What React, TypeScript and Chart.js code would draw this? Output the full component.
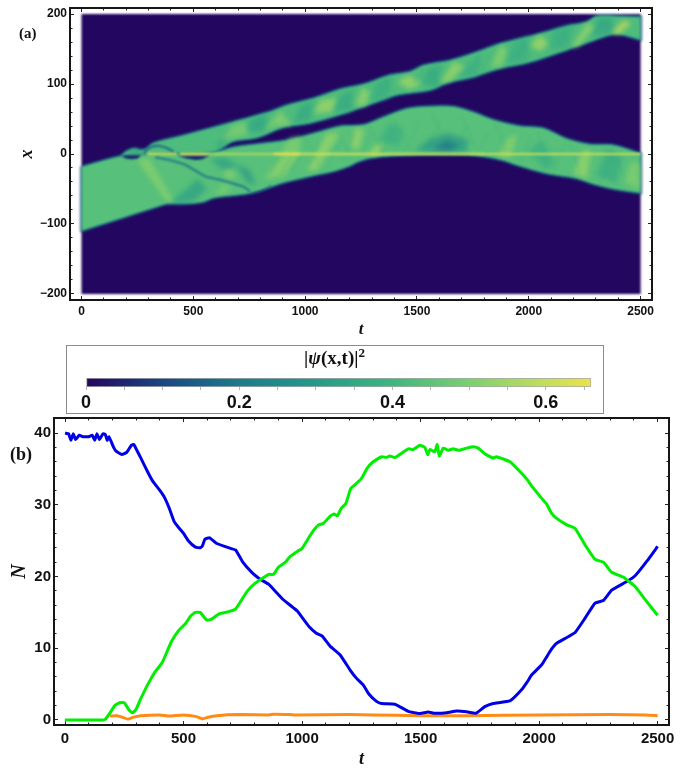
import React, { useEffect, useRef } from "react";
import { Chart, registerables } from "chart.js";
Chart.register(...registerables);

const FONT_SANS = "'Liberation Sans', Arial, sans-serif";
const FONT_SERIF = "'Liberation Serif', 'Times New Roman', serif";

// ---- colour scale of |psi|^2 ----
const colourStops = [0, 0.1, 0.2, 0.3, 0.4, 0.5, 0.6, 0.659];
const colourHex = ["#23065f", "#1a4683", "#1c7b8c", "#259a89", "#3fb680", "#7ccf70", "#c3de5c", "#ece24c"];

// ---- panel (a): outlines, [t, x] ----
const backgroundRect = [[0, 200], [2500, 200], [2500, -200], [0, -200], [0, 200]];
const lowerBandOutline = [
  [0, -18], [0, -18], [174, -3], [300, 0], [560, 0], [590, 1.5], [680, 10], [799, 15], [918, 20], [1052, 31], [1157, 40], [1261, 42],
  [1350, 53], [1454, 65], [1544, 68], [1663, 68], [1752, 60], [1842, 49], [1961, 40], [2065, 37], [2169, 22], [2273, 14],
  [2377, 13], [2500, 1], [2500, 1], [2500, -56], [2500, -56], [2377, -50], [2287, -43], [2213, -35], [2079, -28], [1946, -16], [1871, -8],
  [1722, -1], [1499, -1], [1305, -5], [1231, -12], [1201, -17], [1127, -25], [1052, -30], [904, -41], [830, -49],
  [755, -56], [660, -60], [640, -60], [590, -63], [540, -69], [472, -71], [383, -71], [383, -71], [0, -110], [0, -110], [0, -18],
];
const upperBandOutline = [
  [174, -3], [200, 4], [234, 8], [270, 6], [290, 8], [323, 16], [457, 27], [665, 45], [844, 61], [918, 70], [1038, 80],
  [1157, 93], [1261, 100], [1380, 113], [1470, 118], [1529, 127], [1648, 134], [1767, 146], [1871, 158], [1975, 166],
  [2079, 175], [2183, 184], [2258, 189], [2302, 197], [2406, 197], [2500, 196], [2500, 196], [2500, 163], [2500, 163], [2385, 171], [2273, 160],
  [2139, 145], [2005, 131], [1871, 122], [1752, 110], [1633, 101], [1559, 91], [1410, 84], [1276, 69], [1157, 56],
  [1023, 44], [904, 38], [785, 23], [680, 18], [591, 3], [400, 1], [174, -3],
];
const patchOutlines = [
  [[245, -8], [300, -5], [412, -66], [385, -70]],
  [[400, -68], [470, -50], [520, -35], [560, -50], [500, -68], [430, -70]],
  [[590, -58], [640, -40], [670, -50], [640, -59]],
  [[575, -8], [640, -5], [700, -16], [640, -25]],
  [[630, -25], [660, -20], [690, -30], [660, -38]],
  [[690, -15], [750, -22], [780, -45], [740, -40]],
  [[600, 10], [650, 33], [680, 38], [625, 8]],
  [[621, 20], [673, 41], [733, 46], [747, 27]],
  [[740, 32], [755, 49], [829, 58], [822, 32]],
  [[814, 32], [889, 62], [941, 41], [860, 40]],
  [[948, 43], [978, 70], [1038, 75], [1023, 49]],
  [[1038, 58], [1068, 77], [1142, 80], [1120, 60]],
  [[1125, 60], [1150, 80], [1210, 92], [1210, 62]],
  [[1225, 70], [1255, 96], [1290, 88], [1270, 68]],
  [[1290, 75], [1320, 103], [1390, 112], [1370, 80]],
  [[1410, 103], [1462, 113], [1521, 101], [1469, 92]],
  [[1520, 100], [1545, 120], [1610, 130], [1590, 95]],
  [[1603, 101], [1663, 132], [1715, 125], [1648, 104]],
  [[1680, 108], [1720, 125], [1790, 146], [1770, 112]],
  [[1830, 125], [1870, 155], [1905, 150], [1880, 125]],
  [[1900, 128], [1930, 160], [2000, 168], [1990, 132]],
  [[2006, 156], [2050, 170], [2088, 158], [2050, 146]],
  [[2090, 150], [2110, 176], [2200, 185], [2170, 150]],
  [[2192, 153], [2259, 187], [2296, 182], [2222, 153]],
  [[2280, 168], [2310, 195], [2370, 195], [2385, 174], [2340, 170]],
  [[2370, 174], [2423, 191], [2460, 187], [2400, 170]],
  [[814, -36], [904, 1], [978, 1], [904, -32]],
  [[889, 1], [930, 22], [978, 25], [978, 1]],
  [[1008, -23], [1097, 30], [1157, 30], [1053, -24]],
  [[1201, 10], [1225, 38], [1265, 35], [1240, 5]],
  [[1280, -3], [1320, 15], [1350, 10], [1320, -3]],
  [[1330, 20], [1380, 45], [1440, 35], [1420, 10]],
  [[1490, 5], [1560, 22], [1640, 30], [1730, 20], [1720, 2], [1600, 1]],
  [[1570, 8], [1630, 20], [1690, 14], [1650, 4]],
  [[1860, -5], [1900, 20], [1950, 30], [1920, -5]],
  [[2000, 5], [2060, 20], [2120, -15], [2070, -22]],
  [[2200, -28], [2240, 5], [2280, 5], [2260, -35]],
  [[2300, -30], [2350, 8], [2420, -5], [2390, -42]],
  [[2425, -40], [2460, -10], [2495, -15], [2495, -50]],
  [[190, 0], [240, 6], [275, 4], [260, 0]],
];
const patchValues = [
  0.53, 0.3, 0.5, 0.3, 0.54, 0.27, 0.32, 0.52, 0.32, 0.54, 0.34, 0.58, 0.34, 0.56, 0.36, 0.58, 0.34, 0.57, 0.36, 0.54,
  0.36, 0.59, 0.36, 0.56, 0.32, 0.64, 0.54, 0.52, 0.56, 0.56, 0.58, 0.36, 0.27, 0.18, 0.54, 0.36, 0.56, 0.35, 0.52, 0.25,
];
const voidOutlines = [
  [[182, -3], [200, -6], [225, -7], [250, -6], [263, -2], [240, -2.5], [210, -2.5], [182, -3]],
  [[438, -3], [470, -6], [510, -8], [540, -7], [570, -2], [550, -3], [500, -3], [460, -3], [438, -3]],
];
const darkArc = [[278, 1], [292, 6], [308, 9.5], [330, 11.5], [353, 11.4], [385, 8], [412, 3.3]];
const darkSlope = [[330, -4.7], [400, -9], [465, -15.6], [510, -24], [554, -32], [621, -37], [725, -47], [755, -54]];
const faintWisp = [[760, -57], [800, -54], [850, -45]];
const brightLineSegments = [
  [[295, 0], [425, 0]],
  [[440, 0], [570, 0]],
  [[570, 0], [860, 0]],
  [[860, 0], [980, 0]],
  [[980, 0], [1800, 0]],
  [[1800, 0], [2500, 0]],
];
const brightLineValues = [0.6, 0.63, 0.55, 0.66, 0.6, 0.6];
const crossStreaks = [
  [[840, -30], [880, -5]], [[890, -30], [935, -5]], [[940, -25], [985, 2]], [[1020, -15], [1060, 15]], [[1100, -20], [1150, 15]],
  [[1170, -10], [1215, 25]], [[1240, -8], [1300, 30]], [[1340, 0], [1410, 42]], [[1440, 2], [1510, 45]], [[1540, 5], [1600, 45]],
  [[1660, 2], [1720, 38]], [[1780, 4], [1820, 30]], [[1960, -12], [2010, 25]], [[2110, -25], [2160, 15]], [[2320, -40], [2380, 0]],
  [[1000, 25], [1060, -15]], [[1150, 30], [1210, -8]], [[1290, 38], [1350, 0]], [[1400, 48], [1470, 5]], [[1560, 60], [1640, 10]],
  [[1700, 55], [1760, 10]], [[1850, 42], [1900, 5]], [[2040, 30], [2080, -15]], [[2180, 15], [2230, -25]], [[2370, 8], [2430, -35]],
  [[1320, 80], [1360, 100]], [[1480, 100], [1530, 120]], [[1790, 120], [1830, 145]], [[1950, 140], [1990, 160]], [[2130, 155], [2170, 178]],
  [[1360, 105], [1400, 88]], [[1560, 122], [1600, 98]], [[1760, 140], [1800, 118]], [[1970, 160], [2010, 138]], [[2150, 175], [2190, 152]],
];
const crossValue = 0.32;

// ---- panel (b) series ----
const blueT = [0, 15, 25, 35, 45, 60, 75, 100, 115, 125, 135, 145, 160, 170, 178, 185, 195, 205, 215, 240, 260, 280, 290, 300, 320, 350, 370, 400, 420, 440, 460, 480, 500, 520, 550, 570, 580, 590, 610, 640, 700, 720, 750, 790, 820, 860, 880, 920, 950, 980, 1000, 1030, 1060, 1085, 1118, 1160, 1202, 1230, 1258, 1280, 1314, 1335, 1392, 1448, 1497, 1532, 1560, 1610, 1652, 1694, 1734, 1771, 1806, 1877, 1926, 1950, 1969, 2011, 2032, 2053, 2074, 2117, 2152, 2194, 2236, 2271, 2306, 2370, 2405, 2454, 2500];
const blueN = [40, 39.9, 39, 39.9, 39.1, 39.7, 39.5, 39.5, 39.7, 39, 39.9, 39.1, 39.9, 39.8, 39, 39.5, 38.8, 38, 37.5, 37, 37.3, 38.3, 38.4, 37.8, 36.5, 34.5, 33.3, 32, 31, 29.5, 27.7, 26.8, 26, 25, 24.1, 24, 24.3, 25.2, 25.4, 24.6, 23.9, 23.7, 22, 20.5, 19.7, 18.9, 18.2, 16.8, 16, 15.2, 14.3, 13, 12.1, 11.7, 10.3, 9.1, 7, 5.8, 4.9, 3.7, 2.6, 2.3, 2.2, 1.2, 0.9, 1.1, 0.93, 1, 1.25, 1.15, 0.93, 1.86, 2.3, 2.65, 4.2, 5.3, 6.3, 7.7, 8.8, 9.9, 10.7, 11.5, 12.2, 14.2, 16.3, 16.65, 18.1, 19.3, 20.1, 22.1, 24.2];
const greenT = [0, 160, 170, 190, 210, 230, 250, 270, 285, 300, 320, 350, 380, 410, 430, 450, 480, 510, 530, 550, 570, 590, 600, 620, 650, 690, 720, 750, 770, 800, 830, 860, 880, 900, 930, 950, 980, 1000, 1030, 1050, 1070, 1090, 1118, 1135, 1150, 1165, 1185, 1202, 1209, 1230, 1251, 1275, 1300, 1335, 1356, 1370, 1392, 1448, 1469, 1497, 1518, 1530, 1539, 1560, 1570, 1579, 1596, 1617, 1638, 1660, 1694, 1722, 1743, 1771, 1806, 1820, 1877, 1926, 1950, 1969, 2011, 2032, 2053, 2074, 2117, 2152, 2194, 2236, 2271, 2306, 2356, 2405, 2454, 2500];
const greenN = [0, 0, 0.1, 1, 2, 2.4, 2.4, 1.4, 1, 1.5, 3, 5, 6.7, 8, 9.5, 11, 12.5, 13.5, 14.5, 15, 15, 14.2, 13.9, 14.1, 14.8, 15.1, 15.5, 17, 18, 19, 19.7, 20.3, 20.3, 21.3, 22, 22.8, 23.5, 23.9, 25.5, 26.5, 27.2, 27.4, 28.4, 28.7, 28.5, 29.5, 30.2, 32, 32.4, 33, 33.7, 35.1, 36, 36.7, 36.6, 36.8, 36.6, 37.8, 37.7, 38.3, 38, 37, 37.7, 37.4, 38.4, 36.8, 37.9, 37.6, 37.8, 37.6, 37.9, 38.1, 37.9, 37.1, 36.5, 36.7, 36, 34.4, 33.5, 32.6, 30.9, 30.1, 28.8, 28.1, 27.2, 26.7, 24.4, 22.4, 22, 20.6, 19.9, 18.6, 16.5, 14.6];
const orangeT = [190, 220, 250, 265, 290, 320, 400, 440, 500, 550, 580, 600, 640, 740, 860, 880, 950, 970, 1200, 1300, 1500, 1700, 2000, 2300, 2450, 2500];
const orangeN = [0.55, 0.6, 0.3, 0.1, 0.4, 0.6, 0.7, 0.55, 0.7, 0.5, 0.15, 0.35, 0.6, 0.75, 0.7, 0.8, 0.75, 0.7, 0.75, 0.7, 0.6, 0.6, 0.7, 0.75, 0.7, 0.6];

const tMajor = [0, 500, 1000, 1500, 2000, 2500];
const tMinor = [100, 200, 300, 400, 600, 700, 800, 900, 1100, 1200, 1300, 1400, 1600, 1700, 1800, 1900, 2100, 2200, 2300, 2400];
const xMajor = [-200, -100, 0, 100, 200];
const xMinor = [-180, -160, -140, -120, -80, -60, -40, -20, 20, 40, 60, 80, 120, 140, 160, 180];
const nMajor = [0, 10, 20, 30, 40];
const nMinor = [2, 4, 6, 8, 12, 14, 16, 18, 22, 24, 26, 28, 32, 34, 36, 38, 42];
const barTicks = [0, 0.05, 0.1, 0.15, 0.2, 0.25, 0.3, 0.35, 0.4, 0.45, 0.5, 0.55, 0.6, 0.65];
const barLabels = [0, 0.2, 0.4, 0.6];

function colourOf(v: number) {
  let i = 0;
  while (i < colourStops.length - 2 && v > colourStops[i + 1]) i++;
  const f = Math.min(1, Math.max(0, (v - colourStops[i]) / (colourStops[i + 1] - colourStops[i])));
  const rgb = (h: string) => [1, 3, 5].map((k) => parseInt(h.slice(k, k + 2), 16));
  const a = rgb(colourHex[i]);
  const b = rgb(colourHex[i + 1]);
  return a.map((c, k) => Math.round(c + (b[k] - c) * f));
}
const css = (v: number, alpha = 1) => `rgba(${colourOf(v).join(",")},${alpha})`;
const pts = (a: number[][]) => a.map(([x, y]) => ({ x, y }));
const series = (t: number[], n: number[]) => t.map((x, i) => ({ x, y: n[i] }));

type Box = { left: number; right: number; top: number; bottom: number };

function noPadding(s: any) {
  s.paddingTop = 0; s.paddingBottom = 0; s.paddingLeft = 0; s.paddingRight = 0;
}

function sideAxes(
  hMin: number, hMax: number, vMin: number, vMax: number,
  hMajor: number[], hMinor: number[], vMajor: number[], vMinor: number[],
  box: Box, bottomSize: number, fontSize: number, hPad: number, vPad: number, hTitle: any, vTitle: any,
) {
  const frame = { display: true, width: 2, color: "#161616" };
  const noFrame = { display: false };
  const grid = (len: number) => ({ drawOnChartArea: false, drawTicks: true, tickLength: len, tickColor: "#222", tickWidth: 1 });
  const setTicks = (vals: number[]) => (s: any) => { s.ticks = vals.map((value) => ({ value })); };
  const h = (position: string, vals: number[], len: number, main: boolean, label: boolean, weight: number, size: number, title?: any) => ({
    type: "linear", position, min: hMin, max: hMax, weight,
    afterBuildTicks: setTicks(vals),
    afterFit: (s: any) => { s.height = size; noPadding(s); },
    border: main ? frame : noFrame, grid: grid(len),
    title: title || { display: false },
    ticks: { display: label, autoSkip: false, maxRotation: 0, padding: hPad, font: { family: FONT_SANS, weight: "bold", size: fontSize }, color: "#111", callback: (v: number) => String(v) },
  });
  const v = (position: string, vals: number[], len: number, main: boolean, label: boolean, weight: number, size: number, title?: any) => ({
    type: "linear", position, min: vMin, max: vMax, weight,
    afterBuildTicks: setTicks(vals),
    afterFit: (s: any) => { s.width = size; noPadding(s); },
    border: main ? frame : noFrame, grid: grid(len),
    title: title || { display: false },
    ticks: { display: label, autoSkip: false, padding: vPad, font: { family: FONT_SANS, weight: "bold", size: fontSize }, color: "#111", callback: (t: number) => String(t).replace("-", "\u2212") },
  });
  return {
    x: h("bottom", hMajor, -4, true, true, 2, bottomSize, hTitle),
    xM: h("bottom", hMinor, -2.5, false, false, 0, 0),
    xT: h("top", hMajor, -4, true, false, 2, 0),
    xTM: h("top", hMinor, -2.5, false, false, 0, 0),
    y: v("left", vMajor, -4, true, true, 2, box.left, vTitle),
    yM: v("left", vMinor, -2.5, false, false, 0, 0),
    yR: v("right", vMajor, -4, true, false, 2, 0),
    yRM: v("right", vMinor, -2.5, false, false, 0, 0),
  };
}

function axisTitle(text: string, size: number, padding: any) {
  return { display: true, text, color: "#111", padding, font: { family: FONT_SERIF, style: "italic", weight: "bold", size } };
}

const CLEAR = "rgba(0,0,0,0)";

function polygon(points: number[][], colour: string, stroke?: string, width = 0, fill = true, tension = 0) {
  return {
    data: pts(points), showLine: true, pointRadius: 0, tension,
    fill: fill ? "shape" : false,
    backgroundColor: colour,
    borderColor: stroke || CLEAR,
    borderWidth: width,
    borderJoinStyle: "round",
  };
}

function useChart(make: (c: HTMLCanvasElement) => any) {
  const ref = useRef<HTMLCanvasElement | null>(null);
  useEffect(() => {
    const chart = make(ref.current!);
    return () => chart.destroy();
  }, []);
  return ref;
}

const A: Box = { left: 70, right: 652, top: 8, bottom: 300 };
const tRangeA = [-51.4, 2551];
const xRangeA = [-208.6, 208.6];
const B: Box = { left: 54, right: 669, top: 3, bottom: 310 };
const tRangeB = [-46.5, 2548];
const nRange = [-0.7, 42.1];

function heatLayer(ds: any[]) {
  return (c: HTMLCanvasElement) => {
    ds.forEach((d, i) => { d.order = ds.length - i; });
    return new Chart(c, {
      type: "scatter",
      data: { datasets: ds },
      options: {
        responsive: false, animation: false,
        layout: { padding: { left: A.left, right: 690 - A.right, top: A.top, bottom: 340 - A.bottom } },
        plugins: { legend: { display: false }, tooltip: { enabled: false } },
        scales: {
          x: { type: "linear", display: false, min: tRangeA[0], max: tRangeA[1] },
          y: { type: "linear", display: false, min: xRangeA[0], max: xRangeA[1] },
        },
      },
    } as any);
  };
}

const baseLayer = () => [
  polygon(backgroundRect, css(0)),
  polygon(upperBandOutline, CLEAR, css(0.09, 0.65), 3.5, false, 0.3),
  polygon(lowerBandOutline, CLEAR, css(0.09, 0.65), 3.5, false, 0.3),
  polygon(lowerBandOutline, css(0.44), css(0.24), 1, true, 0.3),
  polygon(upperBandOutline, css(0.425), css(0.24), 1, true, 0.3),
];
const patchLayer = () => patchOutlines.map((p, i) => polygon([...p, p[0]], css(patchValues[i], 0.62)));
const detailLayer = () => [
  ...crossStreaks.map((p) => polygon(p, CLEAR, css(crossValue, 0.14), 1.6, false)),
  ...voidOutlines.map((p) => polygon(p, css(0.02), css(0.1), 1)),
  polygon(darkArc, CLEAR, css(0.14, 0.85), 2.2, false, 0.3),
  polygon(darkSlope, CLEAR, css(0.18, 0.8), 2.4, false, 0.3),
  polygon(faintWisp, CLEAR, css(0.1, 0.45), 2, false),
  ...brightLineSegments.map((p, i) => polygon(p, CLEAR, css(brightLineValues[i]), i === 5 ? 2 : 2.6, false)),
];

function frameA(c: HTMLCanvasElement) {
  const scales: any = sideAxes(tRangeA[0], tRangeA[1], xRangeA[0], xRangeA[1], tMajor, tMinor, xMajor, xMinor,
    A, 340 - A.bottom, 12, 8, 7,
    axisTitle("t", 17, { top: 0, bottom: 0 }), axisTitle("x", 18, { top: 17, bottom: 0 }));
  return new Chart(c, {
    type: "scatter",
    data: { datasets: [] },
    options: {
      responsive: false, animation: false,
      layout: { padding: { left: 0, right: 690 - A.right, top: A.top, bottom: 0 } },
      plugins: { legend: { display: false }, tooltip: { enabled: false } },
      scales,
    },
  } as any);
}

function barChart(c: HTMLCanvasElement) {
  return new Chart(c, {
    type: "bar",
    data: {
      labels: ["|\u03c8(x,t)|\u00b2"],
      datasets: [{
        data: [[0, 0.659]],
        borderWidth: 1, borderColor: "#a8a8a8", borderSkipped: false,
        barPercentage: 1, categoryPercentage: 1,
        backgroundColor: (ctx: any) => {
          const area = ctx.chart.chartArea;
          if (!area) return colourHex[3];
          const g = ctx.chart.ctx.createLinearGradient(area.left, 0, area.right, 0);
          colourStops.forEach((s, i) => g.addColorStop(s / 0.659, colourHex[i]));
          return g;
        },
      }],
    },
    options: {
      indexAxis: "y", responsive: false, animation: false,
      layout: { padding: { left: 20, right: 12, top: 33, bottom: 0 } },
      plugins: { legend: { display: false }, tooltip: { enabled: false } },
      scales: {
        y: { type: "category", display: false },
        x: {
          type: "linear", position: "bottom", min: 0, max: 0.659,
          afterBuildTicks: (s: any) => { s.ticks = barTicks.map((value) => ({ value })); },
          afterFit: (s: any) => { s.height = 27; noPadding(s); },
          border: { display: false },
          grid: { drawOnChartArea: false, drawTicks: true, tickLength: 3, tickColor: "#b5b5b5", tickWidth: 1 },
          ticks: {
            autoSkip: false, maxRotation: 0, padding: 2, color: "#111",
            font: { family: FONT_SANS, weight: "bold", size: 18 },
            callback: (v: number) => (barLabels.some((b) => Math.abs(b - v) < 1e-6) ? String(Math.round(v * 10) / 10) : ""),
          },
        },
      },
    },
  } as any);
}

function countChart(c: HTMLCanvasElement) {
  const scales: any = sideAxes(tRangeB[0], tRangeB[1], nRange[0], nRange[1], tMajor, tMinor, nMajor, nMinor,
    B, 355 - B.bottom, 15, 9, 7,
    axisTitle("t", 18, { top: 0, bottom: 0 }), axisTitle("N", 20, { top: 8, bottom: 0 }));
  const line = (data: any[], colour: string, order: number) => ({
    data, borderColor: colour, backgroundColor: colour, borderWidth: 3, pointRadius: 0,
    tension: 0.12, order, fill: false, borderJoinStyle: "round",
  });
  return new Chart(c, {
    type: "line",
    data: {
      datasets: [
        { label: "green", ...line(series(greenT, greenN), "#00ee00", 1) },
        { label: "blue", ...line(series(blueT, blueN), "#0000e6", 2) },
        { label: "orange", ...line(series(orangeT, orangeN), "#ff8a14", 3) },
      ],
    },
    options: {
      responsive: false, animation: false,
      layout: { padding: { left: 0, right: 690 - B.right, top: B.top, bottom: 0 } },
      plugins: { legend: { display: false }, tooltip: { enabled: false } },
      scales,
    },
  } as any);
}

const abs = (left: number, top: number, extra: any = {}) => ({ position: "absolute", left, top, ...extra } as React.CSSProperties);

export default function App() {
  const base = useChart(heatLayer(baseLayer()));
  const patch = useChart(heatLayer(patchLayer()));
  const detail = useChart(heatLayer(detailLayer()));
  const frame = useChart(frameA);
  const bar = useChart(barChart);
  const count = useChart(countChart);
  return (
    <div style={abs(0, 0, { width: 690, height: 770, background: "#fff", overflow: "hidden" })}>
      <canvas ref={base} width={690} height={340} style={abs(0, 0, { filter: "blur(0.9px)", display: "block" })} />
      <canvas ref={patch} width={690} height={340} style={abs(0, 0, { filter: "blur(2.6px)", display: "block" })} />
      <canvas ref={detail} width={690} height={340} style={abs(0, 0, { filter: "blur(1px)", display: "block" })} />
      <canvas ref={frame} width={690} height={340} style={abs(0, 0, { display: "block" })} />
      <div style={abs(19, 25, { font: `bold 15px ${FONT_SERIF}`, color: "#111" })}>(a)</div>
      <div style={abs(66, 345, { width: 536, height: 67, border: "1.5px solid #8c8c8c", boxSizing: "content-box" })} />
      <canvas ref={bar} width={537} height={69} style={abs(66, 345, { display: "block" })} />
      <div style={abs(66, 347, { width: 537, textAlign: "center", font: `bold 19px ${FONT_SERIF}`, color: "#111", whiteSpace: "nowrap" })}>
        |<i>{"\u03c8"}</i>(x,t)|<sup style={{ fontSize: 13, lineHeight: 0 }}>2</sup>
      </div>
      <canvas ref={count} width={690} height={355} style={abs(0, 415, { display: "block" })} />
      <div style={abs(10, 444, { font: `bold 18px ${FONT_SERIF}`, color: "#111" })}>(b)</div>
    </div>
  );
}
